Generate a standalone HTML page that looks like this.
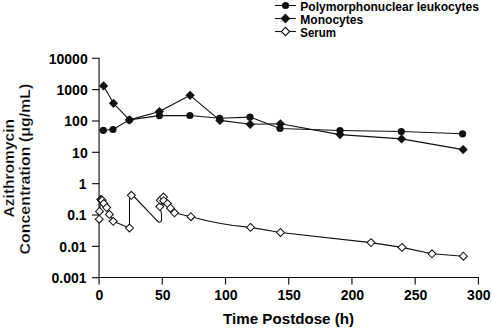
<!DOCTYPE html><html><head><meta charset="utf-8"><style>html,body{margin:0;padding:0;background:#fff;}svg{display:block;}text{font-family:"Liberation Sans",sans-serif;font-weight:bold;fill:#000;}</style></head><body>
<svg width="492" height="328" viewBox="0 0 492 328">
<g stroke="#555" stroke-width="1.6" fill="none">
<path d="M99.1 57.80 V 284.50"/>
</g>
<g stroke="#111" stroke-width="1.15" fill="none">
<path d="M99 277.5 H 478.4 V 284.5"/>
<path d="M91.9 58.30 H 99"/>
<path d="M91.9 89.64 H 99"/>
<path d="M91.9 120.98 H 99"/>
<path d="M91.9 152.32 H 99"/>
<path d="M91.9 183.66 H 99"/>
<path d="M91.9 215.00 H 99"/>
<path d="M91.9 246.34 H 99"/>
<path d="M91.9 277.68 H 99"/>
<path d="M162.27 277.5 V 284.5"/>
<path d="M225.50 277.5 V 284.5"/>
<path d="M288.72 277.5 V 284.5"/>
<path d="M351.95 277.5 V 284.5"/>
<path d="M415.18 277.5 V 284.5"/>
</g>
<text x="87.7" y="63.60" font-size="14" text-anchor="end">10000</text>
<text x="87.7" y="94.94" font-size="14" text-anchor="end">1000</text>
<text x="87.7" y="126.28" font-size="14" text-anchor="end">100</text>
<text x="87.7" y="157.62" font-size="14" text-anchor="end">10</text>
<text x="86.6" y="188.96" font-size="14" text-anchor="end">1</text>
<text x="86.6" y="220.30" font-size="14" text-anchor="end">0.1</text>
<text x="86.6" y="251.64" font-size="14" text-anchor="end">0.01</text>
<text x="86.6" y="282.98" font-size="14" text-anchor="end">0.001</text>
<text x="99.45" y="300.0" font-size="14" text-anchor="middle">0</text>
<text x="162.67" y="300.0" font-size="14" text-anchor="middle">50</text>
<text x="225.90" y="300.0" font-size="14" text-anchor="middle">100</text>
<text x="289.12" y="300.0" font-size="14" text-anchor="middle">150</text>
<text x="352.35" y="300.0" font-size="14" text-anchor="middle">200</text>
<text x="415.57" y="300.0" font-size="14" text-anchor="middle">250</text>
<text x="478.80" y="300.0" font-size="14" text-anchor="middle">300</text>
<text x="223.1" y="323.6" font-size="14.6" textLength="131" lengthAdjust="spacingAndGlyphs">Time Postdose (h)</text>
<text stroke="#fff" stroke-width="0.25" transform="translate(13.9,217.4) rotate(-90)" font-size="14.2" textLength="98.4" lengthAdjust="spacingAndGlyphs">Azithromycin</text>
<text stroke="#fff" stroke-width="0.25" transform="translate(29.6,254.5) rotate(-90)" font-size="14.2" textLength="170.8" lengthAdjust="spacingAndGlyphs">Concentration (μg/mL)</text>
<g stroke="#111" stroke-width="1.1" fill="none" stroke-linejoin="round">
<polyline points="103.30,130.30 113.00,129.50 129.30,119.90 159.40,115.60 189.90,115.50 219.60,118.30 250.00,117.10 280.00,128.50 340.00,130.50 401.30,131.50 462.60,133.80"/>
<polyline points="103.60,85.90 113.50,103.30 129.40,119.90 159.40,111.50 190.10,95.30 219.90,120.40 250.20,124.30 280.40,123.80 340.00,134.60 401.60,138.90 463.10,149.60"/>
<path d="M 99.25 219.20 L 99.50 211.40 L 100.80 199.40 L 101.50 199.80 L 102.20 200.30 L 103.80 203.50 L 106.70 207.60 L 109.40 214.40 L 113.20 221.30 L 129.50 228.00 L 129.5 199 L 131.40 195.30 L 134.5 197 L 157 220.6 Q 159.8 223.8 161.4 220.6 Q 161.9 218.5 161.2 212 L 160.2 209.6 L 159.8 206.6 L 160.30 200.30 L 163.50 197.00 L 163.70 200.70 L 167.50 203.60 L 170.50 208.20 L 174.50 212.80 L 190.90 216.70 C 205 220.5, 228 225.6, 250.5 227.4 L 280.50 232.50 L 371.00 242.60 L 402.00 247.40 L 432.00 253.80 L 463.40 256.20"/>
</g>
<g fill="#111">
<circle cx="103.30" cy="130.30" r="3.6"/>
<circle cx="113.00" cy="129.50" r="3.6"/>
<circle cx="129.30" cy="119.90" r="3.6"/>
<circle cx="159.40" cy="115.60" r="3.6"/>
<circle cx="189.90" cy="115.50" r="3.6"/>
<circle cx="219.60" cy="118.30" r="3.6"/>
<circle cx="250.00" cy="117.10" r="3.6"/>
<circle cx="280.00" cy="128.50" r="3.6"/>
<circle cx="340.00" cy="130.50" r="3.6"/>
<circle cx="401.30" cy="131.50" r="3.6"/>
<circle cx="462.60" cy="133.80" r="3.6"/>
<polygon points="103.60,81.30 108.20,85.90 103.60,90.50 99.00,85.90"/>
<polygon points="113.50,98.70 118.10,103.30 113.50,107.90 108.90,103.30"/>
<polygon points="129.40,115.30 134.00,119.90 129.40,124.50 124.80,119.90"/>
<polygon points="159.40,106.90 164.00,111.50 159.40,116.10 154.80,111.50"/>
<polygon points="190.10,90.70 194.70,95.30 190.10,99.90 185.50,95.30"/>
<polygon points="219.90,115.80 224.50,120.40 219.90,125.00 215.30,120.40"/>
<polygon points="250.20,119.70 254.80,124.30 250.20,128.90 245.60,124.30"/>
<polygon points="280.40,119.20 285.00,123.80 280.40,128.40 275.80,123.80"/>
<polygon points="340.00,130.00 344.60,134.60 340.00,139.20 335.40,134.60"/>
<polygon points="401.60,134.30 406.20,138.90 401.60,143.50 397.00,138.90"/>
<polygon points="463.10,145.00 467.70,149.60 463.10,154.20 458.50,149.60"/>
</g>
<g fill="#fff" stroke="#111" stroke-width="1.05">
<polygon points="99.25,215.25 103.20,219.20 99.25,223.15 95.30,219.20"/>
<polygon points="99.50,207.45 103.45,211.40 99.50,215.35 95.55,211.40"/>
<polygon points="100.80,195.45 104.75,199.40 100.80,203.35 96.85,199.40"/>
<polygon points="101.50,195.85 105.45,199.80 101.50,203.75 97.55,199.80"/>
<polygon points="102.20,196.35 106.15,200.30 102.20,204.25 98.25,200.30"/>
<polygon points="103.80,199.55 107.75,203.50 103.80,207.45 99.85,203.50"/>
<polygon points="106.70,203.65 110.65,207.60 106.70,211.55 102.75,207.60"/>
<polygon points="109.40,210.45 113.35,214.40 109.40,218.35 105.45,214.40"/>
<polygon points="113.20,217.35 117.15,221.30 113.20,225.25 109.25,221.30"/>
<polygon points="129.50,224.05 133.45,228.00 129.50,231.95 125.55,228.00"/>
<polygon points="131.40,191.35 135.35,195.30 131.40,199.25 127.45,195.30"/>
<polygon points="159.80,202.65 163.75,206.60 159.80,210.55 155.85,206.60"/>
<polygon points="160.30,196.35 164.25,200.30 160.30,204.25 156.35,200.30"/>
<polygon points="163.50,193.05 167.45,197.00 163.50,200.95 159.55,197.00"/>
<polygon points="163.70,196.75 167.65,200.70 163.70,204.65 159.75,200.70"/>
<polygon points="167.50,199.65 171.45,203.60 167.50,207.55 163.55,203.60"/>
<polygon points="170.50,204.25 174.45,208.20 170.50,212.15 166.55,208.20"/>
<polygon points="174.50,208.85 178.45,212.80 174.50,216.75 170.55,212.80"/>
<polygon points="190.90,212.75 194.85,216.70 190.90,220.65 186.95,216.70"/>
<polygon points="250.50,223.45 254.45,227.40 250.50,231.35 246.55,227.40"/>
<polygon points="280.50,228.55 284.45,232.50 280.50,236.45 276.55,232.50"/>
<polygon points="371.00,238.65 374.95,242.60 371.00,246.55 367.05,242.60"/>
<polygon points="402.00,243.45 405.95,247.40 402.00,251.35 398.05,247.40"/>
<polygon points="432.00,249.85 435.95,253.80 432.00,257.75 428.05,253.80"/>
<polygon points="463.40,252.25 467.35,256.20 463.40,260.15 459.45,256.20"/>
</g>
<g stroke="#111" stroke-width="1.1">
<path d="M274.9 5.50 H 295.9"/>
<path d="M274.9 18.50 H 295.9"/>
<path d="M274.9 31.50 H 295.9"/>
</g>
<circle cx="285.6" cy="5.5" r="3.6" fill="#111"/>
<polygon points="285.40,13.60 290.30,18.50 285.40,23.40 280.50,18.50" fill="#111"/>
<polygon points="285.50,27.40 289.60,31.50 285.50,35.60 281.40,31.50" fill="#fff" stroke="#111" stroke-width="1.1"/>
<text x="300.3" y="10.7" font-size="12" textLength="178.6" lengthAdjust="spacingAndGlyphs">Polymorphonuclear leukocytes</text>
<text x="300.3" y="23.7" font-size="12" textLength="62.9" lengthAdjust="spacingAndGlyphs">Monocytes</text>
<text x="300.3" y="36.7" font-size="12" textLength="35.8" lengthAdjust="spacingAndGlyphs">Serum</text>
</svg></body></html>
